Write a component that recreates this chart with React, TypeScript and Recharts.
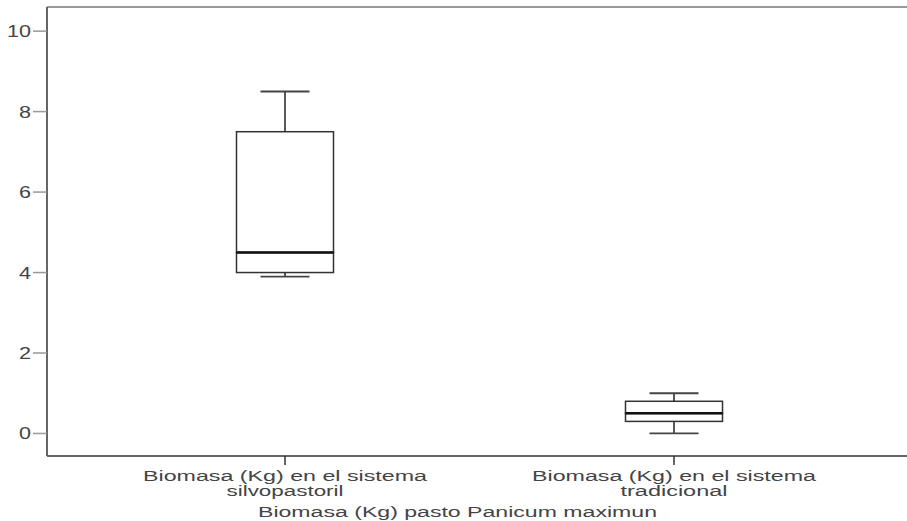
import { ComposedChart, Bar, XAxis, YAxis, ReferenceLine } from 'recharts';

// cajas (Biomasa en Kg)
const categories = ['silvopastoril', 'tradicional'];
const labelLines: Record<string, string[]> = {
  silvopastoril: ['Biomasa (Kg) en el sistema', 'silvopastoril'],
  tradicional: ['Biomasa (Kg) en el sistema', 'tradicional'],
};
const mins = [3.9, 0.0];
const q1s = [4.0, 0.3];
const medians = [4.5, 0.5];
const q3s = [7.5, 0.8];
const maxs = [8.5, 1.0];
const yTicks = [0, 2, 4, 6, 8, 10];
const yTop = 10.6;
const axisTitle = 'Biomasa (Kg) pasto Panicum maximun';

const data = categories.map((name, i) => ({
  name,
  base: mins[i],
  whiskerLow: q1s[i] - mins[i],
  boxLow: medians[i] - q1s[i],
  boxHigh: q3s[i] - medians[i],
  whiskerHigh: maxs[i] - q3s[i],
}));

const FONT = '"Liberation Sans", Arial, sans-serif';
const TEXT = '#444';

// ancho aproximado por línea, el original está estirado
const lineWidth = (s: string) => {
  if (s.startsWith('Biomasa (Kg) en')) return 284;
  if (s === 'silvopastoril') return 117;
  if (s === 'tradicional') return 107;
  return undefined;
};

const WhiskerLow = (props: any) => {
  const { x, y, width, height } = props;
  const cx = x + width / 2;
  return (
    <g>
      <line x1={cx} x2={cx} y1={y} y2={y + height} stroke="#222" strokeWidth={1.5} />
      <line x1={cx - 24.5} x2={cx + 24.5} y1={y + height} y2={y + height} stroke="#444" strokeWidth={1.8} />
    </g>
  );
};

const WhiskerHigh = (props: any) => {
  const { x, y, width, height } = props;
  const cx = x + width / 2;
  return (
    <g>
      <line x1={cx} x2={cx} y1={y} y2={y + height} stroke="#222" strokeWidth={1.5} />
      <line x1={cx - 24.5} x2={cx + 24.5} y1={y} y2={y} stroke="#444" strokeWidth={1.8} />
    </g>
  );
};

const BoxLow = (props: any) => {
  const { x, y, width, height } = props;
  return <rect x={x} y={y} width={width} height={height} fill="#fff" stroke="#333" strokeWidth={1.5} />;
};

const BoxHigh = (props: any) => {
  const { x, y, width, height } = props;
  return (
    <g>
      <rect x={x} y={y} width={width} height={height} fill="#fff" stroke="#333" strokeWidth={1.5} />
      <line x1={x} x2={x + width} y1={y + height} y2={y + height} stroke="#111" strokeWidth={2.5} />
    </g>
  );
};

const XTick = (props: any) => {
  const { x, payload } = props;
  const lines = labelLines[payload.value] || [payload.value];
  return (
    <g>
      {lines.map((ln, i) => (
        <text
          key={i}
          x={x}
          y={481 + i * 15}
          textAnchor="middle"
          fontFamily={FONT}
          fontSize={14}
          fill={TEXT}
          textLength={lineWidth(ln)}
          lengthAdjust="spacingAndGlyphs"
        >
          {ln}
        </text>
      ))}
    </g>
  );
};

const YTick = (props: any) => {
  const { x, y, payload } = props;
  const s = String(payload.value);
  return (
    <text
      x={x}
      y={y + 6}
      textAnchor="end"
      fontFamily={FONT}
      fontSize={16}
      fill={TEXT}
      textLength={s.length * 12}
      lengthAdjust="spacingAndGlyphs"
    >
      {s}
    </text>
  );
};

export default function App() {
  return (
    <div style={{ position: 'absolute', left: 0, top: 0, background: '#fff' }}>
      <ComposedChart
        width={907}
        height={521}
        data={data}
        margin={{ top: 7, right: 0, left: 0, bottom: 0 }}
      >
        <XAxis
          dataKey="name"
          height={65}
          padding={{ left: 43.5, right: 38.5 }}
          axisLine={{ stroke: '#666', strokeWidth: 1.8 }}
          tickLine={{ stroke: '#333', strokeWidth: 1.5 }}
          tickSize={9}
          tick={<XTick />}
          interval={0}
          label={{
            content: () => (
              <text
                x={457.5}
                y={517}
                textAnchor="middle"
                fontFamily={FONT}
                fontSize={14}
                fill={TEXT}
                textLength={399}
                lengthAdjust="spacingAndGlyphs"
              >
                {axisTitle}
              </text>
            ),
          }}
        />
        <YAxis
          width={47}
          type="number"
          domain={[-0.56, yTop]}
          ticks={yTicks}
          interval={0}
          allowDataOverflow
          axisLine={{ stroke: '#555', strokeWidth: 1.8 }}
          tickLine={{ stroke: '#999', strokeWidth: 1.5 }}
          tickSize={14}
          tickMargin={2}
          tick={<YTick />}
        />
        {/* borde superior del marco */}
        <ReferenceLine y={yTop} stroke="#999" strokeWidth={2} ifOverflow="visible" />
        <Bar dataKey="base" stackId="a" fill="none" barSize={97} isAnimationActive={false} />
        <Bar dataKey="whiskerLow" stackId="a" barSize={97} shape={<WhiskerLow />} isAnimationActive={false} />
        <Bar dataKey="boxLow" stackId="a" barSize={97} shape={<BoxLow />} isAnimationActive={false} />
        <Bar dataKey="boxHigh" stackId="a" barSize={97} shape={<BoxHigh />} isAnimationActive={false} />
        <Bar dataKey="whiskerHigh" stackId="a" barSize={97} shape={<WhiskerHigh />} isAnimationActive={false} />
      </ComposedChart>
    </div>
  );
}
